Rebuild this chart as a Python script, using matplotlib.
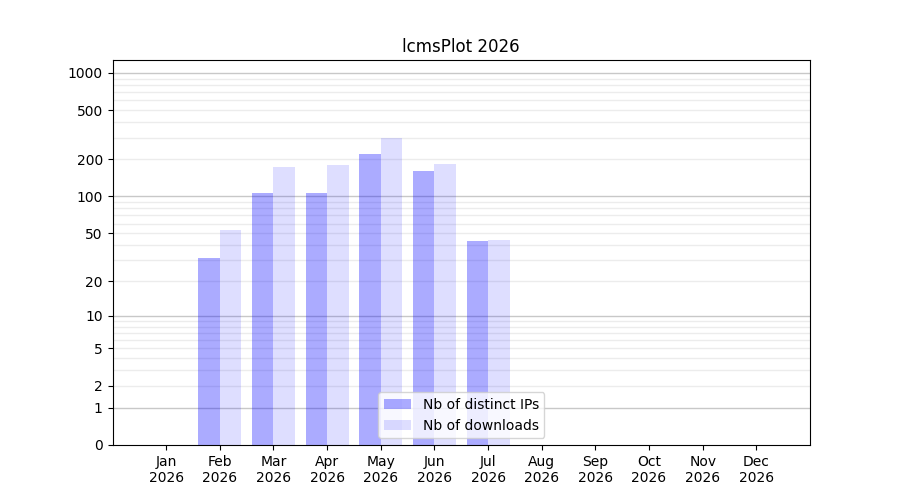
import numpy as np
import matplotlib
matplotlib.use('Agg')
import matplotlib.pyplot as plt

months = ['Jan', 'Feb', 'Mar', 'Apr', 'May', 'Jun', 'Jul', 'Aug', 'Sep', 'Oct', 'Nov', 'Dec']
year = '2026'
distinct_ips = [0, 31, 107, 107, 222, 162, 43, 0, 0, 0, 0, 0]
downloads = [0, 53, 174, 181, 299, 184, 44, 0, 0, 0, 0, 0]
ytick_values = [0, 1, 2, 5, 10, 20, 50, 100, 200, 500, 1000]

fig, ax = plt.subplots(figsize=(9, 5), dpi=100)

x = np.arange(len(months))

# skala log10(1+y), zero jest widoczne
ax.set_yscale('function', functions=(lambda v: np.log10(1 + np.clip(v, 0, None)),
                                      lambda v: 10 ** v - 1))

# siatka: dekady ciemniejsze, reszta jasna
for dec in [1, 10, 100, 1000]:
    ax.axhline(dec, color='#c8c8c8', lw=1, zorder=0)
    if dec < 1000:
        for m in range(2, 10):
            ax.axhline(dec * m, color='#ececec', lw=1, zorder=0)

ax.bar(x - 0.4, distinct_ips, width=0.4, align='edge', color='blue', alpha=0.33,
       label='Nb of distinct IPs', zorder=2)
ax.bar(x, downloads, width=0.4, align='edge', color='blue', alpha=0.13,
       label='Nb of downloads', zorder=2)

ax.set_xlim(-1, 12)
ax.set_ylim(0, 1270)
ax.set_xticks(x)
ax.set_xticklabels([m + '\n' + year for m in months])
ax.set_yticks(ytick_values)
ax.set_yticklabels([str(v) for v in ytick_values])
ax.minorticks_off()

ax.set_title('lcmsPlot ' + year)
ax.legend(loc='lower center')

plt.savefig('out.png')
